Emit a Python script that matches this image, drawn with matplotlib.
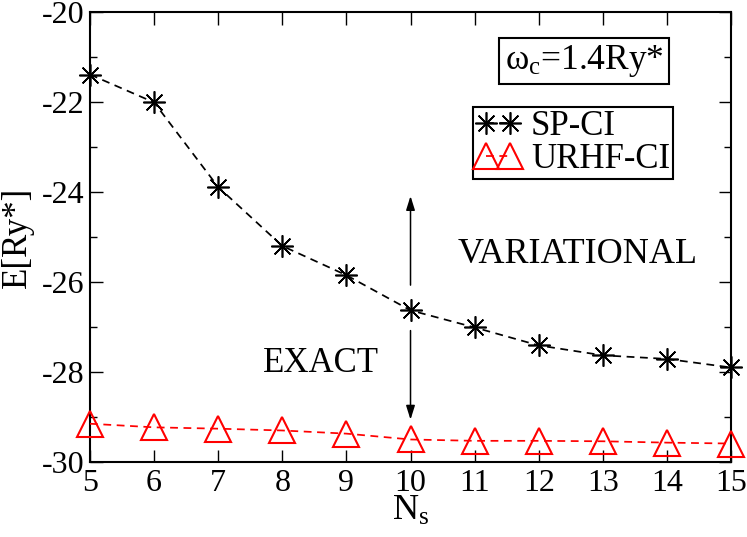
import numpy as np
import matplotlib
matplotlib.use("Agg")
import matplotlib.pyplot as plt

# energies vs number of single-particle states, omega_c = 1.4 Ry*
n_s = [5, 6, 7, 8, 9, 10, 11, 12, 13, 14, 15]
sp_ci = [-21.39, -22.01, -23.89, -25.20, -25.85, -26.63, -27.01, -27.41, -27.63, -27.71, -27.90]
urhf_ci = [-29.15, -29.23, -29.26, -29.30, -29.37, -29.50, -29.53, -29.53, -29.54, -29.57, -29.59]

plt.rcParams['font.family'] = ['Liberation Serif', 'DejaVu Serif']
plt.rcParams['mathtext.default'] = 'regular'
plt.rcParams['axes.unicode_minus'] = False

fig = plt.figure(figsize=(7.47, 5.37), dpi=100)
ax = fig.add_axes([0.1205, 0.1397, 0.8581, 0.838])

ax.plot(n_s, sp_ci, ls=(0, (4.5, 3.2)), color='black', lw=1.25,
        marker=(8, 2, 0), ms=16, mew=1.2, mec='black', clip_on=False, label='SP-CI', zorder=3)
ax.plot(n_s, urhf_ci, ls=(0, (4.5, 3.2)), color='red', lw=1.25,
        marker='^', ms=19, mew=1.5, mec='red', mfc='none', clip_on=False, label='URHF-CI', zorder=3)

# double arrow at N_s = 10
arr = dict(arrowstyle='-|>,head_length=0.7,head_width=0.22', color='black', lw=1.1,
           mutation_scale=12, shrinkA=0, shrinkB=0)
ax.annotate('', xy=(10, -24.09), xytext=(10, -26.07), arrowprops=arr)
ax.annotate('', xy=(10, -29.06), xytext=(10, -27.08), arrowprops=arr)

ax.text(8.61, -27.82, 'EXACT', fontsize=25, ha='center', va='center')
ax.text(12.6, -25.4, 'VARIATIONAL', fontsize=26, ha='center', va='center')

ax.text(0.771, 0.891, 'ω$_{c}$=1.4Ry*', transform=ax.transAxes, fontsize=25.5,
        ha='center', va='center',
        bbox=dict(boxstyle='square,pad=0.15', fc='white', ec='black', lw=1.5))

leg = ax.legend(loc='upper left', bbox_to_anchor=(0.597, 0.788), borderaxespad=0,
                fontsize=25, numpoints=2, handlelength=1.3, handletextpad=0.3,
                labelspacing=0.0, borderpad=0.08, fancybox=False, framealpha=1)
leg.get_frame().set_edgecolor('black')
leg.get_frame().set_linewidth(1.5)

ax.set_xlim(5, 15)
ax.set_ylim(-30, -20)
ax.set_xticks(np.arange(5, 16, 1))
ax.set_yticks(np.arange(-30, -19, 2))
ax.set_yticks(np.arange(-29, -20, 2), minor=True)
ax.tick_params(which='both', direction='in', top=True, right=True, width=1, labelsize=23)
ax.tick_params(which='major', length=9)
ax.tick_params(which='minor', length=5)
ax.tick_params(axis='x', pad=5)
ax.tick_params(axis='y', pad=4)
for s in ax.spines.values():
    s.set_linewidth(1.5)

ax.set_xlabel('N$_{s}$', fontsize=26, labelpad=-2)
ax.set_ylabel('E[Ry*]', fontsize=25)
ax.yaxis.set_label_coords(-0.088, 0.5)

fig.savefig('out.png', dpi=100)
